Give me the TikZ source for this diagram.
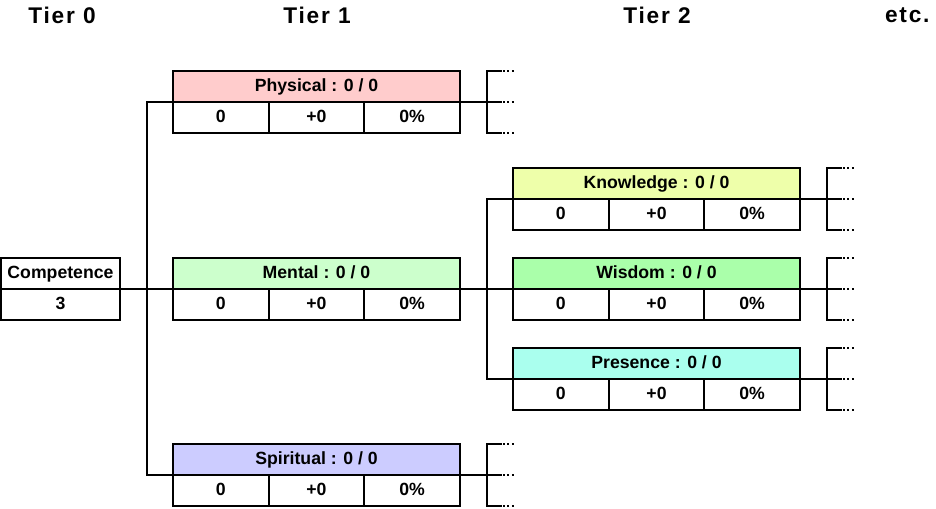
\documentclass[tikz,border=0pt]{standalone}
\usepackage{fontspec}
\setmainfont{Liberation Sans}
\newfontfamily\tierfont{Liberation Sans}[LetterSpace=8]
\usepackage{xcolor}
\usetikzlibrary{positioning}

\definecolor{physcol}{HTML}{FFCCCC}
\definecolor{mentcol}{HTML}{CCFFCC}
\definecolor{spircol}{HTML}{CCCCFF}
\definecolor{knowcol}{HTML}{EEFFAA}
\definecolor{wiscol}{HTML}{AAFFAA}
\definecolor{prescol}{HTML}{AAFFEE}

\begin{document}
\begin{tikzpicture}[x=0.75pt, y=-0.75pt, line width=1.5pt,
    head/.style={rectangle, draw, outer sep=0pt, inner sep=0pt, minimum width=215.25pt, minimum height=23.25pt, text height=9.8pt, text depth=2.6pt, font=\bfseries\fontsize{13.25}{15}\selectfont},
    cell/.style={head, minimum width=71.75pt},
    tier/.style={font=\tierfont\bfseries\fontsize{17}{19}\selectfont},
    dots/.style={dash pattern=on 1.5pt off 1.8pt}]

    \useasboundingbox (0,0) rectangle (936,508);

    % tier titles
    \node[tier] (t0) at (62,15) {Tier 0};
    \node[tier] (t1) at (317,15) {Tier 1};
    \node[tier] (t2) at (657,15) {Tier 2};
    \node[tier, anchor=east] (etc) at (935,15) {etc.};

    % tier 0
    \node[head, minimum width=89.25pt] (comp) at (60.5,273.5) {Competence};
    \node[cell, minimum width=89.25pt, below=0pt of comp] (comp-v) {3};

    % tier 1 and tier 2 boxes
    \foreach \name/\x/\y/\label/\col in {phys/316.5/86.5/Physical/physcol, ment/316.5/273.5/Mental/mentcol, spir/316.5/459.5/Spiritual/spircol, know/656.5/183.5/Knowledge/knowcol, wis/656.5/273.5/Wisdom/wiscol, pres/656.5/363.5/Presence/prescol} {
        \node[head, fill=\col] (\name) at (\x,\y) {\label{} : 0 / 0};
        \node[cell, below right=0pt of \name.south west] (\name-a) {0};
        \node[cell, right=0pt of \name-a] (\name-b) {+0};
        \node[cell, right=0pt of \name-b] (\name-c) {0\%};
    }

    % forks
    \coordinate (fork1) at (147,289);
    \coordinate (fork2) at (487,289);
    \draw (phys.south west) -| (fork1) |- (spir.south west);
    \draw (comp.south east) -- (ment.south west);
    \draw (know.south west) -| (fork2) |- (pres.south west);
    \draw (ment.south east) -- (wis.south west);

    % open brackets
    \foreach \name in {phys, spir, know, wis, pres} {
        \coordinate (\name-bt) at ([xshift=20.25pt]\name.north east);
        \coordinate (\name-bm) at ([xshift=20.25pt]\name.south east);
        \coordinate (\name-bb) at ([xshift=20.25pt]\name-c.south east);
        \draw (\name.south east) -- (\name-bm) -- ++(11.25pt,0);
        \draw ([xshift=11.25pt]\name-bt) -- (\name-bt) -- (\name-bb) -- ++(11.25pt,0);
        \foreach \c in {bt, bm, bb}
            \draw[dots] ([xshift=12pt]\name-\c) -- ++(8.5pt,0);
    }

\end{tikzpicture}
\end{document}
